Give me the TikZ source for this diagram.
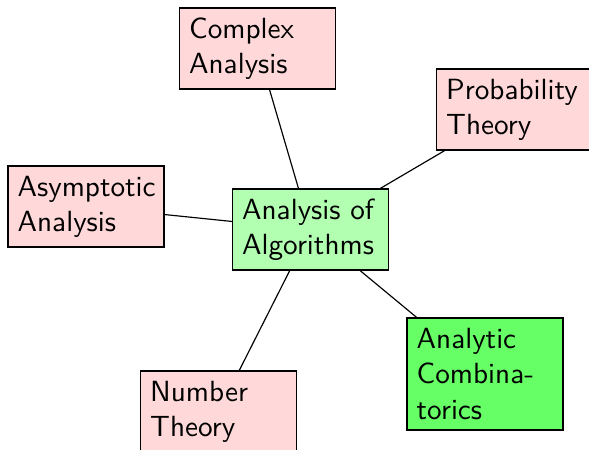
\documentclass[tikz,border=0pt]{standalone}
\begin{document}
\begin{tikzpicture}[x=0.3425pt, y=-0.3425pt,
  topic/.style={draw=black, fill=red!15, font=\sffamily, text width=46.8pt,
    align=flush left, inner sep=3.33pt, minimum height=27.7pt},
  core/.style={topic, fill=green!30},
  goal/.style={topic, fill=green!60, minimum height=38.4pt},
  link/.style={draw=black, line width=0.4pt}]
  \useasboundingbox (0,0) rectangle (589,450);
  \node[core]  (alg)  at (310.5,229.5) {Analysis of Algorithms};
  \node[topic] (cplx) at (257.5,48.5)  {Complex Analysis};
  \node[topic] (prob) at (514.5,109.5) {Probability Theory};
  \node[topic] (asym) at (86,206.5)    {Asymptotic Analysis};
  \node[goal]  (comb) at (485,374)     {Analytic Combinatorics};
  \node[topic] (numb) at (218.5,411.5) {Number Theory};
  \draw[link] (alg) -- (cplx);
  \draw[link] (alg) -- (prob);
  \draw[link] (alg) -- (asym);
  \draw[link] (alg) -- (comb);
  \draw[link] (alg) -- (numb);
\end{tikzpicture}
\end{document}
